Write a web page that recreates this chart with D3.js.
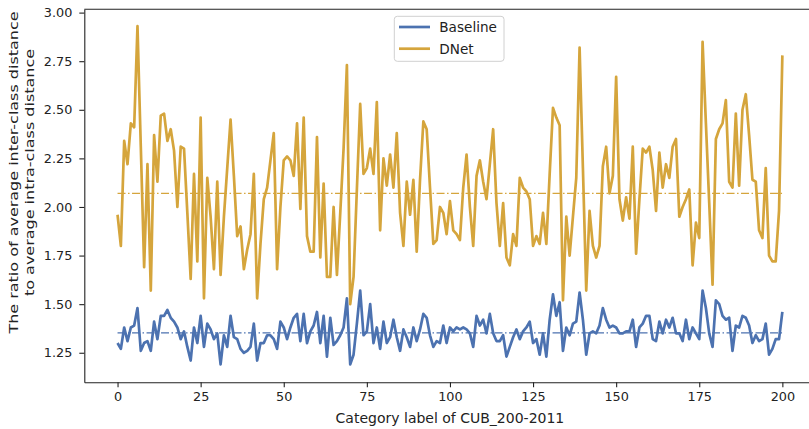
<!DOCTYPE html>
<html>
<head>
<meta charset="utf-8">
<script src="https://cdn.jsdelivr.net/npm/d3@7"></script>
<style>
  html, body { margin: 0; padding: 0; background: #fff; }
  svg { display: block; }
  text { font-family: "DejaVu Sans", sans-serif; fill: #222; }
</style>
</head>
<body>
<svg id="chart" width="809" height="429"></svg>
<script>
const categories = d3.range(0, 201);

const baseline = [
  1.30,1.27,1.38,1.31,1.38,1.39,1.48,1.26,1.30,1.31,
  1.26,1.41,1.32,1.44,1.44,1.47,1.43,1.41,1.38,1.32,
  1.36,1.28,1.21,1.38,1.30,1.44,1.28,1.40,1.37,1.32,
  1.35,1.19,1.34,1.28,1.44,1.33,1.32,1.27,1.25,1.26,
  1.28,1.40,1.21,1.30,1.30,1.34,1.34,1.32,1.27,1.41,
  1.38,1.32,1.38,1.43,1.45,1.31,1.45,1.30,1.36,1.39,
  1.46,1.30,1.44,1.23,1.43,1.29,1.31,1.34,1.38,1.53,
  1.19,1.24,1.40,1.57,1.34,1.36,1.50,1.30,1.38,1.27,
  1.41,1.30,1.33,1.42,1.33,1.26,1.37,1.33,1.28,1.38,
  1.31,1.37,1.45,1.43,1.34,1.28,1.31,1.30,1.39,1.30,
  1.38,1.36,1.38,1.37,1.38,1.37,1.35,1.28,1.44,1.39,
  1.42,1.35,1.45,1.35,1.31,1.31,1.34,1.23,1.28,1.33,
  1.37,1.32,1.36,1.38,1.41,1.30,1.32,1.24,1.35,1.23,
  1.42,1.55,1.44,1.51,1.26,1.38,1.34,1.40,1.41,1.56,
  1.42,1.24,1.35,1.36,1.35,1.39,1.48,1.42,1.38,1.39,
  1.38,1.35,1.35,1.36,1.36,1.42,1.28,1.38,1.40,1.44,
  1.44,1.32,1.31,1.41,1.35,1.42,1.38,1.43,1.35,1.35,
  1.31,1.42,1.32,1.38,1.35,1.32,1.57,1.48,1.35,1.28,
  1.52,1.50,1.44,1.42,1.43,1.26,1.39,1.38,1.44,1.43,
  1.39,1.30,1.34,1.31,1.32,1.40,1.24,1.27,1.32,1.32,
  1.46
];

const dnet = [
  1.96,1.80,2.34,2.22,2.43,2.41,2.93,2.31,1.69,2.22,
  1.57,2.37,2.13,2.47,2.48,2.34,2.40,2.29,2.00,2.31,
  2.30,1.97,1.63,2.17,1.72,2.46,1.53,2.15,1.95,1.68,
  2.13,1.65,1.95,2.20,2.45,2.16,1.85,1.90,1.68,1.78,
  1.86,2.17,1.53,1.81,2.04,2.10,2.24,2.38,1.68,2.00,
  2.24,2.26,2.24,2.16,2.43,1.99,2.46,1.85,1.77,1.77,
  2.36,1.74,2.12,1.64,1.64,2.00,1.65,1.97,2.30,2.73,
  1.50,1.64,2.09,2.53,2.17,2.20,2.30,2.17,2.54,1.88,
  2.25,2.11,2.27,2.10,2.38,1.97,1.80,2.13,1.96,2.14,
  1.77,2.14,2.44,2.40,2.10,1.81,1.83,2.00,1.97,1.86,
  2.03,1.88,1.86,1.83,2.10,2.27,2.00,1.80,2.16,2.24,
  2.13,2.04,2.22,2.40,2.02,1.80,2.02,1.74,1.70,1.86,
  1.80,2.15,2.10,2.08,2.04,1.80,1.85,1.81,1.97,1.81,
  2.17,2.51,2.46,2.42,1.52,1.95,1.75,1.95,2.15,2.82,
  2.20,1.57,1.98,1.80,1.74,1.80,2.21,2.31,2.07,2.16,
  2.67,2.04,1.93,2.05,1.94,2.31,1.76,2.04,2.30,2.28,
  2.31,2.19,1.98,2.28,2.10,2.22,2.15,2.31,2.35,1.95,
  2.00,2.04,2.09,1.70,1.92,1.84,2.85,2.43,2.02,1.60,
  2.35,2.40,2.43,2.55,2.13,2.10,2.48,2.11,2.50,2.58,
  2.37,2.14,2.13,1.88,1.84,2.20,1.75,1.72,1.72,1.98,
  2.78
];

const baselineMean = 1.352;
const dnetMean = 2.07;

const seriesNames = ["Baseline", "DNet"];
const seriesColors = ["#4c72b0", "#d5a53c"];
const xTickValues = [0, 25, 50, 75, 100, 125, 150, 175, 200];
const yTickValues = [1.25, 1.50, 1.75, 2.00, 2.25, 2.50, 2.75, 3.00];
const xLabel = "Category label of CUB_200-2011";
const yLabelLines = ["The ratio of average inter-class distance", "to average intra-class distance"];

const svg = d3.select("#chart");
const L = 84.3, R = 815.6, T = 9.3, B = 382.3;

const x = d3.scaleLinear().domain([-10, 210]).range([L, R]);
const y = d3.scaleLinear().domain([1.098, 3.017]).range([B, T]);

// axes
const xAxis = d3.axisBottom(x).tickValues(xTickValues).tickFormat(d3.format("d"))
  .tickSizeInner(5).tickSizeOuter(0).tickPadding(4.5);
const yAxis = d3.axisLeft(y).tickValues(yTickValues).tickFormat(d3.format(".2f"))
  .tickSizeInner(5).tickSizeOuter(0).tickPadding(7);

const gx = svg.append("g").attr("transform", `translate(0,${B})`).call(xAxis);
const gy = svg.append("g").attr("transform", `translate(${L},0)`).call(yAxis);
[gx, gy].forEach(g => {
  g.select(".domain").attr("stroke", "#222").attr("stroke-width", 1.1);
  g.selectAll(".tick line").attr("stroke", "#222").attr("stroke-width", 1.1);
  g.selectAll(".tick text").attr("font-family", "DejaVu Sans").attr("font-size", 12.8).attr("fill", "#222");
});
svg.append("line").attr("x1", L).attr("x2", R).attr("y1", T).attr("y2", T)
  .attr("stroke", "#222").attr("stroke-width", 1.1);

// lines
const line = d3.line().x((d, i) => x(categories[i])).y(d => y(d));
const seriesData = [baseline, dnet];
const means = [baselineMean, dnetMean];

seriesData.forEach((s, k) => {
  svg.append("line")
    .attr("x1", x(categories[0])).attr("x2", x(categories[categories.length - 1]))
    .attr("y1", y(means[k])).attr("y2", y(means[k]))
    .attr("stroke", seriesColors[k]).attr("stroke-width", 1.2)
    .attr("stroke-dasharray", "8,2.5,1.5,2.5");
});
seriesData.forEach((s, k) => {
  svg.append("path").datum(s)
    .attr("d", line)
    .attr("fill", "none")
    .attr("stroke", seriesColors[k])
    .attr("stroke-width", 2.7)
    .attr("stroke-linejoin", "round");
});

// legend
const lg = svg.append("g");
lg.append("rect").attr("x", 394.3).attr("y", 16.3).attr("width", 109.7).attr("height", 45)
  .attr("rx", 3).attr("fill", "#fff").attr("fill-opacity", 0.85)
  .attr("stroke", "#d0d0d0").attr("stroke-width", 1);
seriesNames.forEach((n, k) => {
  const yy = 27 + k * 21.7;
  lg.append("line").attr("x1", 399).attr("x2", 430).attr("y1", yy).attr("y2", yy)
    .attr("stroke", seriesColors[k]).attr("stroke-width", 2.7);
  lg.append("text").attr("x", 439.3).attr("y", yy).attr("dy", "0.36em")
    .attr("font-size", 13.6).text(n);
});

// axis labels
svg.append("text").attr("x", (L + R) / 2).attr("y", 423).attr("text-anchor", "middle")
  .attr("font-size", 14).text(xLabel);

yLabelLines.forEach((t, k) => {
  svg.append("text")
    .attr("transform", `translate(${18 + k * 15.7},172.5) scale(0.8,1) rotate(-90)`)
    .attr("text-anchor", "middle")
    .attr("font-size", 16)
    .text(t);
});
</script>
</body>
</html>
